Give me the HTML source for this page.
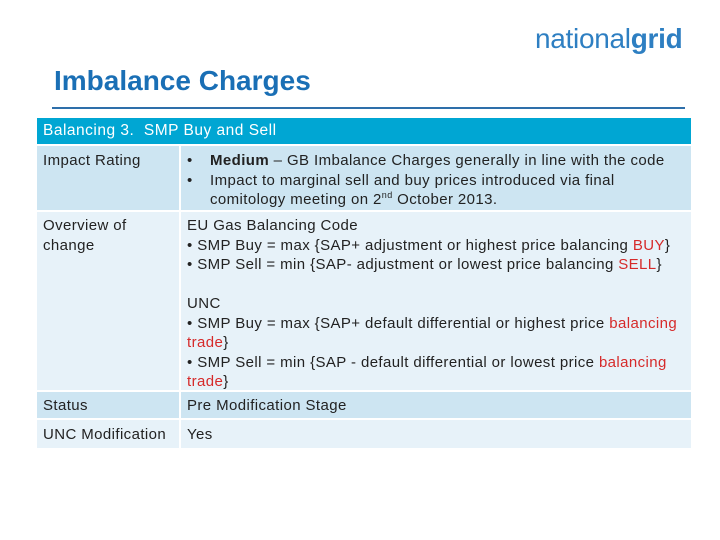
<!DOCTYPE html>
<html><head><meta charset="utf-8"><style>
body{margin:0;width:720px;height:540px;background:#fff;font-family:"Liberation Sans",sans-serif;position:relative;overflow:hidden}
.a{position:absolute;white-space:nowrap}
.t{font-size:15px;color:#222;line-height:19.5px;letter-spacing:0.4px}
.r{color:#d62a2a}
.cell{position:absolute}
sup{font-size:9px;line-height:0;vertical-align:6px}
</style></head><body>
<div class="a" style="left:535px;top:23px;font-size:28px;color:#2e7fc2;letter-spacing:-0.3px">national<b>grid</b></div>
<div class="a" style="left:54px;top:65px;font-size:28px;font-weight:bold;color:#1a6fb5">Imbalance Charges</div>
<div class="a" style="left:52px;top:107px;width:633px;height:2px;background:#2e6faa"></div>
<div>
<div class="cell" style="left:37px;top:118px;width:654px;height:26px;background:#00a6d3"></div>
<div class="a" style="left:43px;top:122px;font-size:15.5px;color:#fff;letter-spacing:0.5px">Balancing 3.&nbsp; SMP Buy and Sell</div>
<div class="cell" style="left:37px;top:146px;width:654px;height:64px;background:#cde5f2"></div>
<div class="cell" style="left:37px;top:212px;width:654px;height:178px;background:#e7f2f9"></div>
<div class="cell" style="left:37px;top:392px;width:654px;height:26px;background:#cde5f2"></div>
<div class="cell" style="left:37px;top:420px;width:654px;height:28px;background:#e7f2f9"></div>
<div class="cell" style="left:179px;top:146px;width:2px;height:302px;background:#fff"></div>
<div class="a t" style="left:43px;top:151px">Impact Rating</div>
<div class="a t" style="left:187px;top:151px">•<span style="position:absolute;left:23px"><b>Medium</b> – GB Imbalance Charges generally in line with the code</span><br>•<span style="position:absolute;left:23px">Impact to marginal sell and buy prices introduced via final</span><br><span style="margin-left:23px">comitology meeting on 2<sup>nd</sup> October 2013.</span></div>
<div class="a t" style="left:43px;top:216px">Overview of<br>change</div>
<div class="a t" style="left:187px;top:216px">EU Gas Balancing Code<br>• SMP Buy = max {SAP+ adjustment or highest price balancing <span class="r">BUY</span>}<br>• SMP Sell = min {SAP- adjustment or lowest price balancing <span class="r">SELL</span>}<br><br>UNC<br>• SMP Buy = max {SAP+ default differential or highest price <span class="r">balancing</span><br><span class="r">trade</span>}<br>• SMP Sell = min {SAP - default differential or lowest price <span class="r">balancing</span><br><span class="r">trade</span>}</div>
<div class="a t" style="left:43px;top:396px">Status</div>
<div class="a t" style="left:187px;top:396px">Pre Modification Stage</div>
<div class="a t" style="left:43px;top:425px">UNC Modification</div>
<div class="a t" style="left:187px;top:425px">Yes</div>
</div>
</body></html>
